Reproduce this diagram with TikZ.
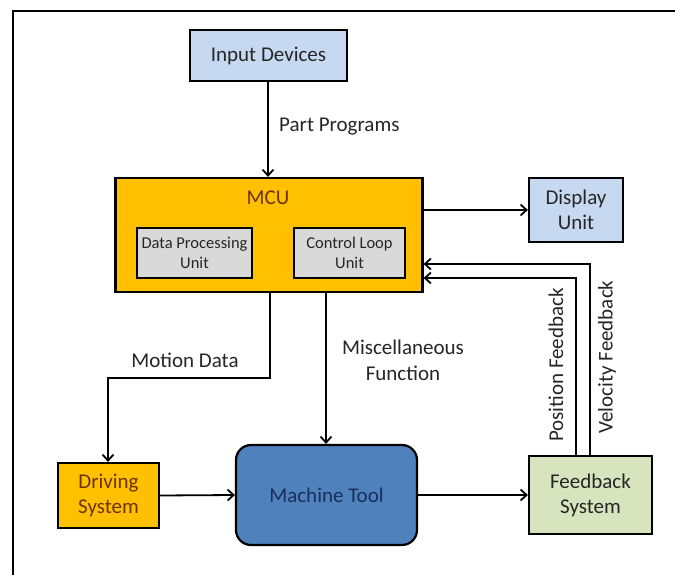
\documentclass[tikz,border=0pt]{standalone}
\usepackage{fontspec}
\setmainfont{Carlito}
\usetikzlibrary{arrows.meta}
\definecolor{lblue}{HTML}{C6D9F1}
\definecolor{orng}{HTML}{FFC000}
\definecolor{lgray}{HTML}{D9D9D9}
\definecolor{mblue}{HTML}{4F81BD}
\definecolor{lgreen}{HTML}{D7E4BD}
\definecolor{txt}{HTML}{262626}
\definecolor{dred}{HTML}{6E3208}
\definecolor{navy}{HTML}{1A2E5A}
\begin{document}
\begin{tikzpicture}[x=1pt,y=-1pt,
  box/.style={draw=black,line width=2.2pt,align=center,inner sep=0pt,text=txt,font=\fontsize{21}{25}\selectfont},
  inbox/.style={draw=black,line width=2pt,fill=lgray,align=center,inner sep=0pt,text=txt,font=\fontsize{16.5}{20}\selectfont},
  lbl/.style={text=txt,font=\fontsize{21}{26}\selectfont,align=center,inner sep=0pt},
  arr/.style={line width=1.8pt,-{Straight Barb[length=6pt,width=11pt,line width=1.8pt]}},
  ln/.style={line width=1.8pt}]
\useasboundingbox (0,0) rectangle (675,575);
\fill[white] (0,0) rectangle (675,575);
\draw[line width=1.5pt] (13,585) -- (13,11) -- (685,11);
% nodes
\node[box,fill=lblue,minimum width=157pt,minimum height=51pt] (inp) at (268.5,55.5) {Input Devices};
\node[box,fill=orng,minimum width=307pt,minimum height=114pt] (mcu) at (269,235) {};
\node[lbl,text=dred] (mcut) at (268,198) {MCU};
\node[inbox,minimum width=115pt,minimum height=50pt] (dpu) at (194.5,253) {Data Processing\\Unit};
\node[inbox,minimum width=111pt,minimum height=50pt] (clu) at (349.5,253) {Control Loop\\Unit};
\node[box,fill=lblue,minimum width=94pt,minimum height=64pt] (disp) at (576,210) {Display\\Unit};
\node[box,fill=orng,text=dred,minimum width=101pt,minimum height=65pt] (drv) at (108.5,495.5) {Driving\\System};
\node[box,fill=mblue,text=navy,rounded corners=15pt,minimum width=181pt,minimum height=100pt] (mt) at (326.5,495) {Machine Tool};
\node[box,fill=lgreen,minimum width=123pt,minimum height=78pt] (fb) at (590.5,495) {Feedback\\System};
% labels
\node[lbl,anchor=west] (pp) at (279,127) {Part Programs};
\node[lbl] (md) at (185,360) {Motion Data};
\node[lbl] (mf) at (403,360) {Miscellaneous\\Function};
\node[lbl,rotate=90] (pf) at (556,365) {Position Feedback};
\node[lbl,rotate=90] (vf) at (607,357) {Velocity Feedback};
% connectors
\coordinate (m1) at (270,378);
\coordinate (m2) at (108,378);
\coordinate (v1) at (590,264);
\coordinate (p1) at (576,278);
\draw[arr] (inp.south -| 268,0) -- (mcu.north -| 268,0);
\draw[arr] (mcu.east |- disp.west) -- (disp.west);
\draw[arr] (mcu.south -| m1) -- (m1) -- (m2) -- (drv.north -| m2);
\draw[arr] (mcu.south -| 326,0) -- (mt.north -| 326,0);
\draw[arr] (drv.east) -- (mt.west);
\draw[arr] (mt.east) -- (fb.west);
\draw[arr] (fb.north -| v1) -- (v1) -- (mcu.east |- v1);
\draw[arr] (fb.north -| p1) -- (p1) -- (mcu.east |- p1);
\end{tikzpicture}
\end{document}
